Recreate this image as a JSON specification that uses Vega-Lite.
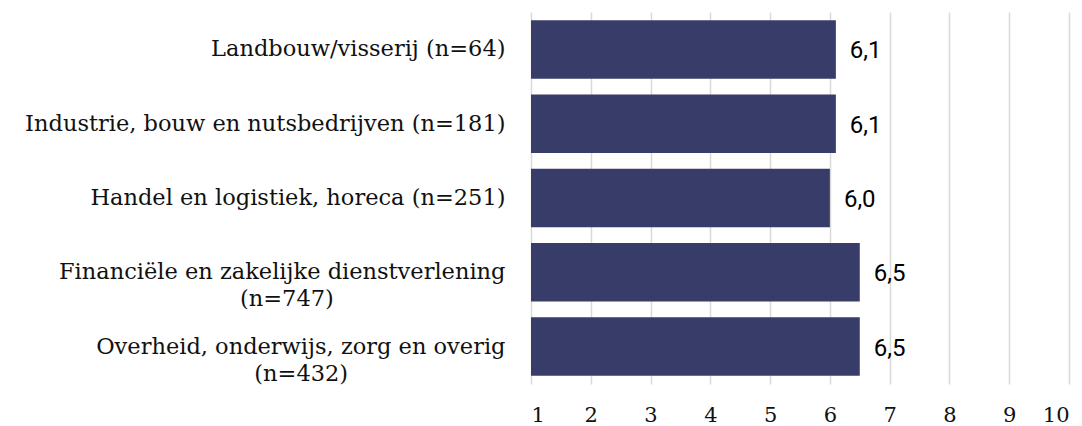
{
  "$schema": "https://vega.github.io/schema/vega-lite/v6.json",
  "width": 538,
  "height": 372,
  "autosize": {"type": "none"},
  "padding": {"left": 531, "top": 12, "right": 13, "bottom": 42},
  "background": "white",
  "config": {
    "view": {"stroke": null},
    "locale": {"number": {"decimal": ",", "thousands": ".", "grouping": [3], "currency": ["€", ""]}}
  },
  "data": {
    "values": [
      {"label": "Landbouw/visserij (n=64)", "value": 6.1},
      {"label": "Industrie, bouw en nutsbedrijven (n=181)", "value": 6.1},
      {"label": "Handel en logistiek, horeca (n=251)", "value": 6.0},
      {"label": "Financiële en zakelijke dienstverlening|(n=747)\u00a0\u00a0\u00a0\u00a0\u00a0\u00a0\u00a0\u00a0\u00a0\u00a0\u00a0\u00a0\u00a0\u00a0\u00a0\u00a0\u00a0\u00a0\u00a0\u00a0\u00a0\u00a0\u00a0\u00a0\u200b", "value": 6.5},
      {"label": "Overheid, onderwijs, zorg en overig|(n=432)\u00a0\u00a0\u00a0\u00a0\u00a0\u00a0\u00a0\u00a0\u00a0\u00a0\u00a0\u00a0\u00a0\u00a0\u00a0\u00a0\u00a0\u00a0\u00a0\u00a0\u00a0\u00a0\u200b", "value": 6.5}
    ]
  },
  "encoding": {
    "y": {
      "field": "label",
      "type": "nominal",
      "sort": null,
      "scale": {"paddingInner": 0.21, "paddingOuter": 0.11},
      "axis": {
        "title": null,
        "domain": false,
        "ticks": false,
        "labelFont": "DejaVu Serif",
        "labelFontSize": 22.5,
        "labelColor": "#111111",
        "labelPadding": 26,
        "labelLimit": 700,
        "labelLineHeight": 27,
        "labelExpr": "split(datum.value, '|')"
      }
    }
  },
  "layer": [
    {
      "mark": {"type": "bar", "color": "#383c68"},
      "encoding": {
        "x": {
          "field": "value",
          "type": "quantitative",
          "scale": {"domain": [1, 10], "zero": false, "nice": false},
          "axis": {
            "title": null,
            "domain": false,
            "ticks": false,
            "grid": true,
            "gridColor": "#d9d9d9",
            "gridWidth": 1.5,
            "values": [1, 2, 3, 4, 5, 6, 7, 8, 9, 10],
            "format": "d",
            "labelFont": "DejaVu Serif",
            "labelFontSize": 21,
            "labelColor": "#111111",
            "labelPadding": 20
          }
        },
        "x2": {"datum": 1}
      }
    },
    {
      "mark": {"type": "text", "align": "left", "baseline": "middle", "dx": 14, "dy": 2, "font": "Roboto", "fontSize": 24, "color": "#000000"},
      "encoding": {
        "x": {"field": "value", "type": "quantitative"},
        "text": {"field": "value", "type": "quantitative", "format": ".1f"}
      }
    }
  ]
}
